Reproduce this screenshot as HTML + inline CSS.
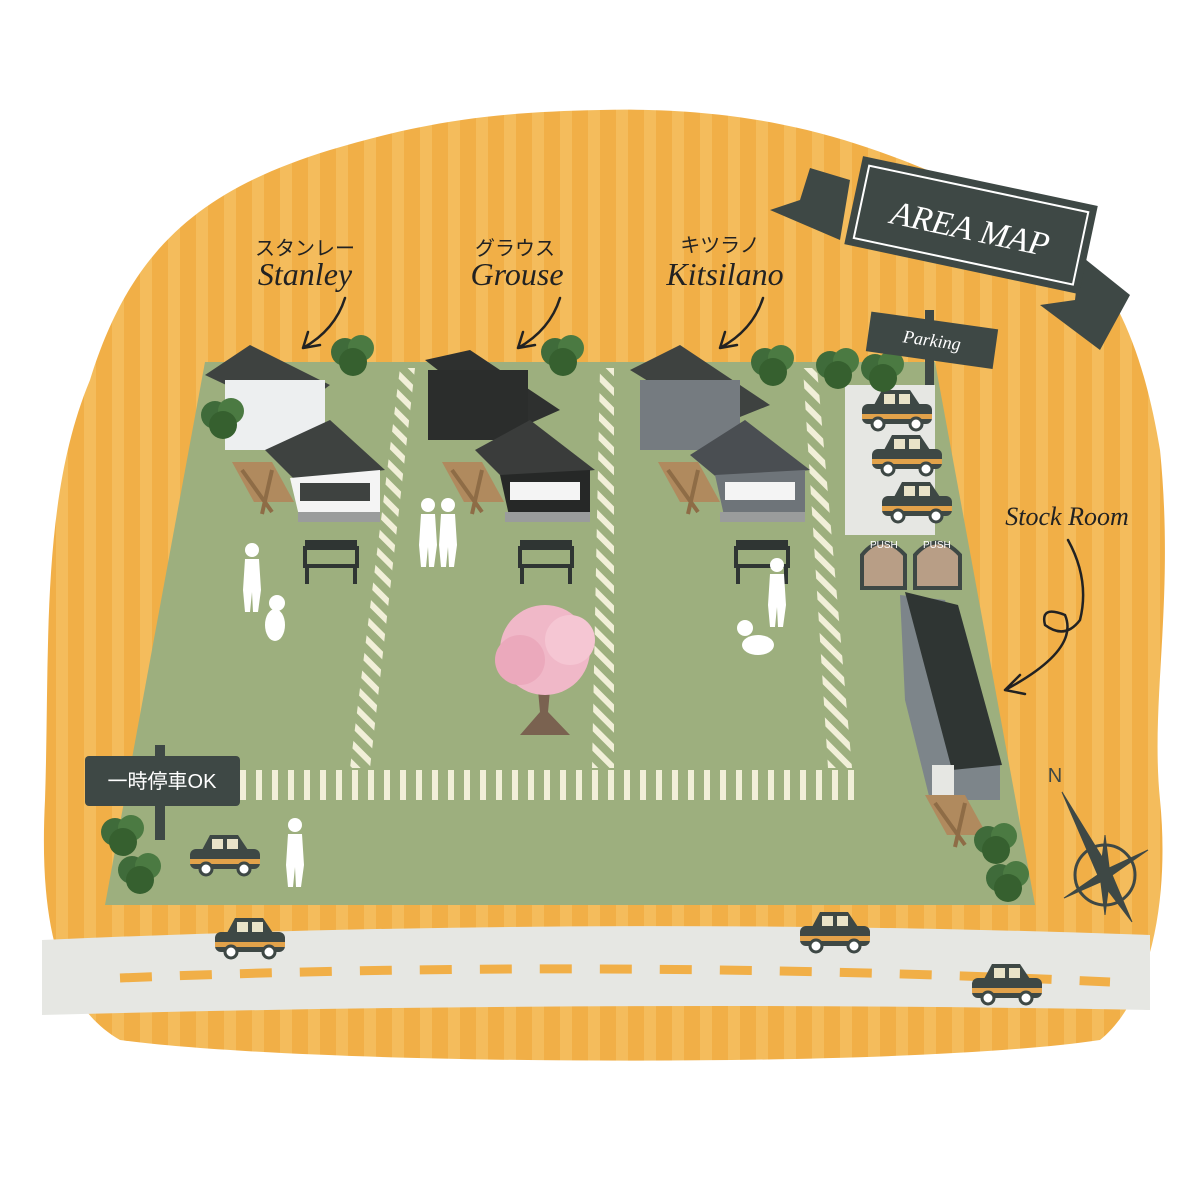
<!DOCTYPE html>
<html><head><meta charset="utf-8"><style>
html,body{margin:0;padding:0;background:#fff}
svg{display:block}
.jp{font-family:"Liberation Sans","Noto Sans CJK JP",sans-serif}
.en{font-family:"Liberation Serif",serif;font-style:italic}
</style></head><body>
<svg width="1200" height="1200" viewBox="0 0 1200 1200" xmlns="http://www.w3.org/2000/svg">
<defs>
<pattern id="st" width="28" height="28" patternUnits="userSpaceOnUse">
<rect width="28" height="28" fill="#F1AF47"/><rect width="12" height="28" fill="#F4BC5C"/>
</pattern>
<pattern id="hatch" width="14" height="14" patternUnits="userSpaceOnUse" patternTransform="rotate(-45)">
<rect width="14" height="14" fill="#9DAF7E"/><rect width="6" height="14" fill="#F1EFD8"/>
</pattern>
<pattern id="vb" width="16" height="30" patternUnits="userSpaceOnUse"><rect width="6" height="30" fill="#F1EFD8"/></pattern>
<g id="car">
<rect x="0" y="14" width="70" height="20" rx="6" fill="#3E4845"/>
<path d="M12 15 L20 0 H48 L58 15Z" fill="#3E4845"/>
<rect x="22" y="4" width="11" height="10" fill="#E9E3C8"/><rect x="37" y="4" width="11" height="10" fill="#E9E3C8"/>
<rect x="0" y="24" width="70" height="5" fill="#E2A24A"/>
<circle cx="16" cy="34" r="6" fill="#fff" stroke="#3E4845" stroke-width="3"/>
<circle cx="54" cy="34" r="6" fill="#fff" stroke="#3E4845" stroke-width="3"/>
</g>
<g id="bush"><circle cx="0" cy="0" r="14" fill="#3F6B3A"/><circle cx="16" cy="-4" r="13" fill="#4B7A42"/><circle cx="8" cy="10" r="14" fill="#36602F"/></g>
<g id="bench"><rect x="0" y="0" width="52" height="8" fill="#2F3533"/><rect x="0" y="8" width="52" height="18" fill="none" stroke="#2F3533" stroke-width="4"/><line x1="2" y1="26" x2="2" y2="44" stroke="#2F3533" stroke-width="4"/><line x1="50" y1="26" x2="50" y2="44" stroke="#2F3533" stroke-width="4"/></g>
<g id="table"><path d="M0 0 L40 0 L62 40 L22 40Z" fill="#B08A5E"/><path d="M10 8 L40 50 M40 8 L30 52" stroke="#8E6C46" stroke-width="4"/></g>
<g id="person"><circle cx="0" cy="0" r="7" fill="#fff"/><path d="M-7 9 H7 L9 40 L6 62 H1 L0 42 L-2 62 H-7 L-9 40Z" fill="#fff"/></g>
</defs>
<rect width="1200" height="1200" fill="#fff"/>
<path d="M600 110 C800 105 900 160 1000 200 C1100 240 1140 330 1160 450 C1175 600 1150 700 1160 800 C1170 900 1150 1000 1100 1040 C900 1070 300 1065 120 1040 C50 1000 40 900 45 800 C50 650 40 500 90 380 C130 250 200 190 330 150 C430 120 500 112 600 110Z" fill="url(#st)"/>
<path d="M42 940 Q600 915 1150 935 L1150 1010 Q600 1000 42 1015Z" fill="#E6E7E3"/>
<path d="M120 978 Q600 958 1110 982" stroke="#F1AF47" stroke-width="9" fill="none" stroke-dasharray="32 28"/>
<polygon points="205,362 935,362 1035,905 105,905" fill="#9DAF7E"/>
<polygon points="400,368 415,368 370,768 350,768" fill="url(#hatch)"/>
<polygon points="600,368 614,368 614,768 592,768" fill="url(#hatch)"/>
<polygon points="803,368 817,368 852,768 828,768" fill="url(#hatch)"/>
<rect x="240" y="770" width="615" height="30" fill="url(#vb)"/>
<rect x="845" y="385" width="90" height="150" fill="#E6E7E3"/>
<use href="#car" x="862" y="390"/><use href="#car" x="872" y="435"/><use href="#car" x="882" y="482"/>
<g><path d="M862 588 V555 Q882 530 905 555 V588Z" fill="#B89E86" stroke="#3E4845" stroke-width="4"/><text x="870" y="548" font-size="10" fill="#fff" class="jp">PUSH</text>
<path d="M915 588 V555 Q937 530 960 555 V588Z" fill="#B89E86" stroke="#3E4845" stroke-width="4"/><text x="923" y="548" font-size="10" fill="#fff" class="jp">PUSH</text></g>
<polygon points="900,595 945,600 1000,760 1000,800 930,800 905,700" fill="#7D858A"/>
<polygon points="905,592 958,605 1002,765 952,770" fill="#2F3533"/>
<rect x="932" y="765" width="22" height="35" fill="#E6E7E3"/>
<use href="#table" x="925" y="795"/>
<g>
<polygon points="205,375 250,345 330,385 290,415" fill="#3E4240"/>
<rect x="225" y="380" width="100" height="70" fill="#EDEFF0"/>
<polygon points="265,450 330,420 385,470 295,480" fill="#3E4240"/>
<polygon points="290,478 380,470 380,515 300,520" fill="#F4F4F4"/>
<rect x="300" y="483" width="70" height="18" fill="#3E4240"/>
<rect x="298" y="512" width="82" height="10" fill="#9A9C9C"/>
</g>
<g>
<polygon points="425,360 470,350 560,410 515,430" fill="#2E302F"/>
<rect x="428" y="370" width="100" height="70" fill="#2B2D2C"/>
<polygon points="475,450 530,420 595,470 505,480" fill="#3A3C3B"/>
<polygon points="500,475 590,470 590,515 510,520" fill="#262827"/>
<rect x="510" y="482" width="70" height="18" fill="#F4F4F4"/>
<rect x="505" y="512" width="85" height="10" fill="#9A9C9C"/>
</g>
<g>
<polygon points="630,370 680,345 770,405 720,425" fill="#3E4240"/>
<rect x="640" y="380" width="100" height="70" fill="#757B80"/>
<polygon points="690,455 745,420 810,470 720,480" fill="#4A4E52"/>
<polygon points="715,475 805,470 805,515 725,520" fill="#6E7479"/>
<rect x="725" y="482" width="70" height="18" fill="#F4F4F4"/>
<rect x="720" y="512" width="85" height="10" fill="#9A9C9C"/>
</g>
<use href="#table" x="232" y="462"/><use href="#table" x="442" y="462"/><use href="#table" x="658" y="462"/>
<use href="#bench" x="305" y="540"/><use href="#bench" x="520" y="540"/><use href="#bench" x="736" y="540"/>
<use href="#bush" x="345" y="352"/><use href="#bush" x="555" y="352"/><use href="#bush" x="765" y="362"/><use href="#bush" x="830" y="365"/><use href="#bush" x="875" y="368"/><use href="#bush" x="215" y="415"/>
<use href="#bush" x="115" y="832"/><use href="#bush" x="132" y="870"/><use href="#bush" x="988" y="840"/><use href="#bush" x="1000" y="878"/>
<path d="M538 690 L550 690 L548 712 L570 735 L520 735 L540 712Z" fill="#7A6250"/>
<circle cx="545" cy="650" r="45" fill="#F0B8C8"/><circle cx="520" cy="660" r="25" fill="#EBA9BC"/><circle cx="570" cy="640" r="25" fill="#F5C6D3"/>
<use href="#person" x="252" y="550"/><use href="#person" x="428" y="505"/><use href="#person" x="448" y="505"/><use href="#person" x="777" y="565"/><use href="#person" x="295" y="825"/>
<ellipse cx="275" cy="625" rx="10" ry="16" fill="#fff"/><circle cx="277" cy="603" r="8" fill="#fff"/>
<ellipse cx="758" cy="645" rx="16" ry="10" fill="#fff"/><circle cx="745" cy="628" r="8" fill="#fff"/>
<use href="#car" x="190" y="835"/><use href="#car" x="215" y="918"/><use href="#car" x="800" y="912"/><use href="#car" x="972" y="964"/>
<rect x="155" y="745" width="10" height="95" fill="#3E4845"/>
<rect x="85" y="756" width="155" height="50" rx="4" fill="#3E4845"/>
<text x="162" y="788" font-size="20" fill="#fff" text-anchor="middle" class="jp">一時停車OK</text>
<rect x="925" y="310" width="9" height="75" fill="#3E4845"/>
<g transform="rotate(8 930 340)"><rect x="868" y="320" width="128" height="40" fill="#3E4845"/><text x="932" y="346" font-size="18" fill="#fff" text-anchor="middle" class="en">Parking</text></g>
<polygon points="810,168 850,180 840,240 770,210 800,200" fill="#3E4845"/>
<polygon points="1080,255 1130,295 1100,350 1040,305 1075,300" fill="#3E4845"/>
<g transform="rotate(12 970 230)"><rect x="850" y="180" width="240" height="90" fill="#3E4845"/><rect x="858" y="188" width="224" height="74" fill="none" stroke="#fff" stroke-width="2"/>
<text x="970" y="240" font-size="34" fill="#fff" text-anchor="middle" class="en">AREA  MAP</text></g>
<g fill="#222">
<text x="305" y="255" font-size="20" text-anchor="middle" class="jp">スタンレー</text>
<text x="305" y="285" font-size="32" text-anchor="middle" class="en">Stanley</text>
<text x="515" y="255" font-size="20" text-anchor="middle" class="jp">グラウス</text>
<text x="517" y="285" font-size="32" text-anchor="middle" class="en">Grouse</text>
<text x="720" y="252" font-size="20" text-anchor="middle" class="jp">キツラノ</text>
<text x="725" y="285" font-size="32" text-anchor="middle" class="en">Kitsilano</text>
<text x="1067" y="525" font-size="26" text-anchor="middle" class="en">Stock Room</text>
<text x="1055" y="782" font-size="20" text-anchor="middle" class="jp" fill="#3E4845">N</text>
</g>
<g fill="none" stroke="#222" stroke-width="2.5" stroke-linecap="round">
<path d="M345 298 Q335 330 303 348 M303 348 L308 332 M303 348 L320 345"/>
<path d="M560 298 Q550 330 518 348 M518 348 L523 332 M518 348 L535 345"/>
<path d="M763 298 Q753 330 720 348 M720 348 L725 332 M720 348 L737 345"/>
<path d="M1068 540 Q1090 580 1080 620 Q1065 640 1045 625 Q1040 605 1065 615 Q1080 650 1005 690 M1005 690 L1020 675 M1005 690 L1025 694"/>
</g>
<g fill="#3E4845" stroke="#3E4845">
<circle cx="1105" cy="875" r="30" fill="none" stroke-width="3"/>
<polygon points="1062,792 1110,870 1100,880"/><polygon points="1132,922 1100,880 1110,870"/>
<polygon points="1148,850 1105,870 1105,880"/><polygon points="1064,898 1105,880 1105,870"/>
<polygon points="1105,835 1100,875 1110,875"/><polygon points="1105,915 1100,875 1110,875"/>
</g>
</svg>
</body></html>
